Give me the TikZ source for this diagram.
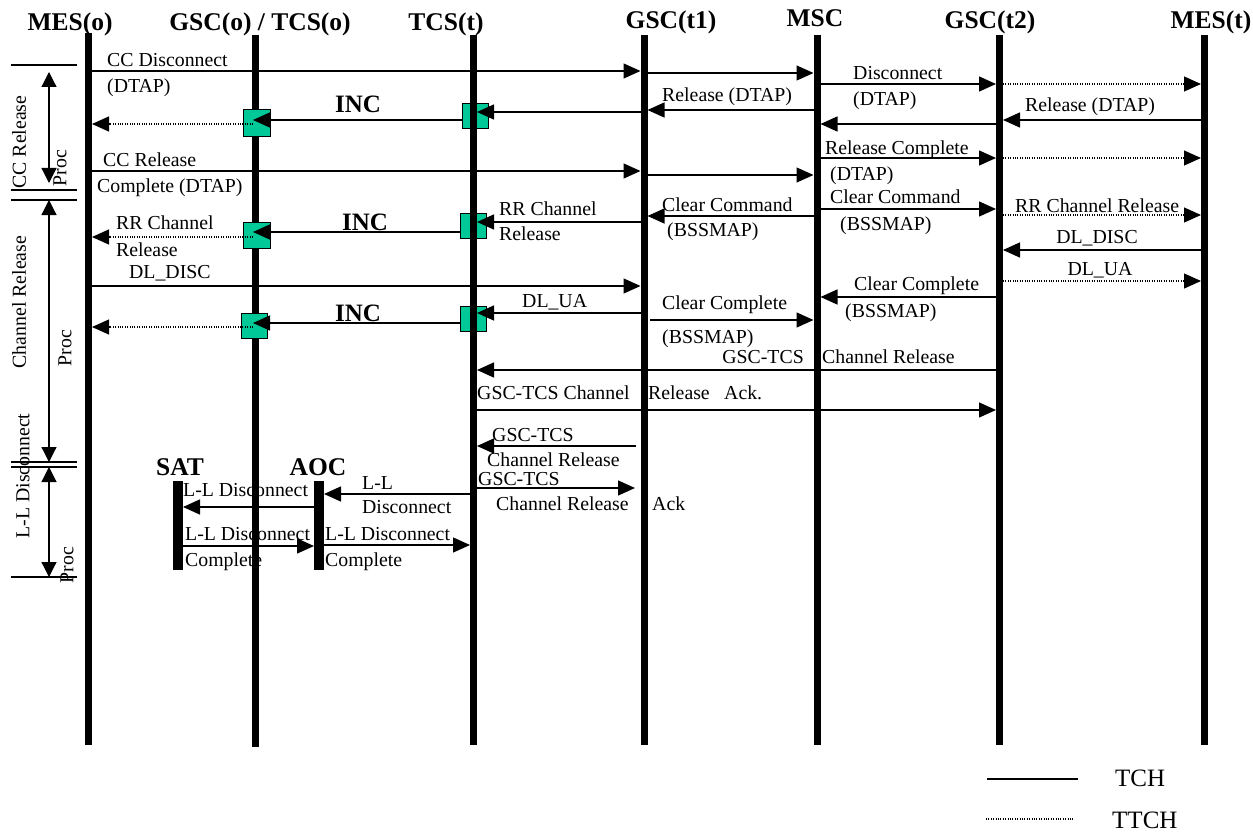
\documentclass[tikz,border=0pt]{standalone}
\usepackage{fontspec}
\setmainfont{Liberation Serif}
\usetikzlibrary{arrows.meta}
\definecolor{incgreen}{RGB}{0,200,150}
\tikzset{
  lifeline/.style={line width=7pt},
  actline/.style={line width=9.5pt},
  msg/.style={line width=1.4pt,-{Triangle[length=17pt,width=15pt]}},
  tmsg/.style={line width=1.1pt,dash pattern=on 1pt off 1.4pt,-{Triangle[length=17pt,width=15pt]}},
  tline/.style={line width=1.1pt,dash pattern=on 1pt off 1.4pt},
  lbl/.style={font=\fontsize{19.8}{22}\selectfont,inner sep=0pt,text height=15pt,text depth=3pt,anchor=west},
  clbl/.style={font=\fontsize{19.8}{22}\selectfont,inner sep=0pt,text height=15pt,text depth=3pt,anchor=center},
  hdr/.style={font=\fontsize{25.5}{28}\selectfont\bfseries,inner sep=0pt,anchor=base},
  inc/.style={font=\fontsize{25}{28}\selectfont\bfseries,inner sep=0pt,text height=17pt,text depth=0pt,anchor=center},
  incbox/.style={draw=black,line width=0.8pt,fill=incgreen,minimum width=26pt,minimum height=25pt,inner sep=0pt},
  side/.style={font=\fontsize{19.8}{22}\selectfont,inner sep=0pt,rotate=90},
  brk/.style={line width=1.2pt,{Triangle[length=15pt,width=15pt]}-{Triangle[length=15pt,width=15pt]}},
  tick/.style={line width=1.2pt},
  leg/.style={font=\fontsize{25}{28}\selectfont,inner sep=0pt,text height=17pt,text depth=0pt,anchor=west}
}
\begin{document}
\begin{tikzpicture}[x=1pt,y=-1pt]
\useasboundingbox (0,0) rectangle (1253,832);

% headers
\node[hdr] (hMESo) at (70,31) {MES(o)};
\node[hdr] (hGSCo) at (260,31) {GSC(o) / TCS(o)};
\node[hdr] (hTCSt) at (446,31) {TCS(t)};
\node[hdr] (hGSCt1) at (671,29) {GSC(t1)};
\node[hdr] (hMSC) at (815,27) {MSC};
\node[hdr] (hGSCt2) at (990,29) {GSC(t2)};
\node[hdr] (hMESt) at (1211,29) {MES(t)};

% INC boxes at TCS(t) (behind lifeline)
\node[incbox] (bt1) at (475,115.5) {};
\node[incbox] (bt2) at (473,226) {};
\node[incbox] (bt3) at (473,319) {};

% lifelines
\foreach \n/\x/\t/\b in {MESo/88.5/33/745, GSCo/255/35/747, TCSt/473.5/35/745, GSCtA/644/35/745, MSC/817/35/745, GSCtB/999.5/35/745, MESt/1204.5/35/745}{
  \coordinate (\n-top) at (\x,\t);
  \coordinate (\n-bot) at (\x,\b);
  \draw[lifeline] (\n-top) -- (\n-bot);
}
\coordinate (SAT-top) at (178,481); \coordinate (SAT-bot) at (178,570);
\coordinate (AOC-top) at (319,481); \coordinate (AOC-bot) at (319,570);
\draw[actline] (SAT-top) -- (SAT-bot);
\draw[actline] (AOC-top) -- (AOC-bot);
\node[hdr] (hSAT) at (180,475) {SAT};
\node[hdr] (hAOC) at (318,475) {AOC};

% INC boxes at GSC(o)/TCS(o)
\node[incbox,minimum width=27pt,minimum height=27pt] (bo1) at (256.5,122.5) {};
\node[incbox,minimum width=27pt,minimum height=26pt] (bo2) at (256.5,235) {};
\node[incbox,minimum width=26pt,minimum height=25pt] (bo3) at (254.5,325.5) {};

% ---- CC release ----
\draw[msg] (92,71) -- (640.5,71);
\node[lbl] (t1) at (107,61) {CC Disconnect};
\node[lbl] (t2) at (107,87) {(DTAP)};
\draw[msg] (647.5,73) -- (813.5,73);
\draw[msg] (820.5,84) -- (996,84);
\node[lbl] (t3) at (853,74) {Disconnect};
\node[lbl] (t4) at (853,100) {(DTAP)};
\draw[tmsg] (1003,84) -- (1201,84);
\draw[msg] (1201,120) -- (1003,120);
\node[lbl] (t5) at (1025,106) {Release (DTAP)};
\draw[msg] (996,124) -- (820.5,124);
\draw[msg] (813.5,110) -- (647.5,110);
\node[lbl] (t6) at (662,96) {Release (DTAP)};
\draw[msg] (640.5,112) -- (477,112);
\draw[msg] (bt1.west |- 0,120) -- (253,120);
\node[inc] (i1) at (358,104) {INC};
\draw[tmsg] (253,124) -- (92,124);

\draw[msg] (92,171) -- (640.5,171);
\node[lbl] (t7) at (103,160) {CC Release};
\node[lbl] (t8) at (97,187) {Complete (DTAP)};
\draw[msg] (647.5,175) -- (813.5,175);
\draw[msg] (820.5,158) -- (996,158);
\node[lbl] (t9) at (825,148) {Release Complete};
\node[lbl] (t10) at (830,174) {(DTAP)};
\draw[tmsg] (1003,158) -- (1201,158);

% ---- channel release ----
\draw[msg] (820.5,209) -- (996,209);
\node[lbl] (t11) at (830,198) {Clear Command};
\node[lbl] (t12) at (840,224) {(BSSMAP)};
\draw[tmsg] (1003,215) -- (1201,215);
\node[lbl] (t13) at (1015,206) {RR Channel Release};
\draw[msg] (813.5,216) -- (647.5,216);
\node[lbl] (t14) at (662,205) {Clear Command};
\node[lbl] (t15) at (667,230) {(BSSMAP)};
\draw[msg] (640.5,222) -- (477,222);
\node[lbl] (t16) at (499,209) {RR Channel};
\node[lbl] (t17) at (499,234) {Release};
\draw[msg] (bt2.west |- 0,232) -- (253,232);
\node[inc] (i2) at (365,222) {INC};
\draw[tmsg] (253,237) -- (92,237);
\node[lbl] (t18) at (116,223) {RR Channel};
\node[lbl] (t19) at (116,250) {Release};

\draw[msg] (92,286) -- (640.5,286);
\node[lbl] (t20) at (129,272) {DL\_DISC};
\draw[msg] (1201,250) -- (1003,250);
\node[clbl] (t21) at (1097,237) {DL\_DISC};
\draw[tmsg] (1003,281) -- (1201,281);
\node[clbl] (t22) at (1100,269) {DL\_UA};
\draw[msg] (996,297) -- (820.5,297);
\node[lbl] (t23) at (854,284) {Clear Complete};
\node[lbl] (t24) at (845,311) {(BSSMAP)};
\draw[msg] (650,320) -- (813.5,320);
\node[lbl] (t25) at (662,303) {Clear Complete};
\node[lbl] (t26) at (662,337) {(BSSMAP)};
\draw[msg] (640.5,313) -- (477,313);
\node[lbl] (t27) at (522,301) {DL\_UA};
\draw[msg] (bt3.west |- 0,323) -- (253,323);
\node[inc] (i3) at (358,313) {INC};
\draw[tmsg] (253,327) -- (92,327);

\draw[msg] (996,370) -- (477,370);
\node[lbl,anchor=east] (t28) at (804,357) {GSC-TCS};
\node[lbl] (t29) at (822,357) {Channel Release};
\draw[msg] (470,410) -- (996,410);
\node[lbl] (t30) at (477,393) {GSC-TCS Channel};
\node[lbl] (t31) at (648,393) {Release};
\node[lbl] (t32) at (724,393) {Ack.};

% ---- L-L disconnect ----
\draw[msg] (636,446) -- (477,446);
\node[lbl] (t33) at (492,435) {GSC-TCS};
\node[lbl] (t34) at (487,460) {Channel Release};
\draw[msg] (470,488) -- (635,488);
\node[lbl] (t35) at (478,479) {GSC-TCS};
\node[lbl] (t36) at (496,504) {Channel Release};
\node[lbl] (t37) at (652,504) {Ack};
\draw[msg] (470,494) -- (324,494);
\node[lbl] (t38) at (362,483) {L-L};
\node[lbl] (t39) at (362,507) {Disconnect};
\draw[msg] (314,507) -- (183,507);
\node[lbl] (t40) at (183,490) {L-L Disconnect};
\draw[msg] (183,546) -- (314,546);
\node[lbl] (t41) at (185,534) {L-L Disconnect};
\node[lbl] (t42) at (185,560) {Complete};
\draw[msg] (324,545) -- (470,545);
\node[lbl] (t43) at (325,534) {L-L Disconnect};
\node[lbl] (t44) at (325,560) {Complete};

% ---- left brackets ----
\foreach \y/\a in {65/11,190/11,200/11,462/11,467/11,577/11}{
  \draw[tick] (\a,\y) -- (77,\y);
}
\coordinate (bA1) at (49,72);  \coordinate (bA2) at (49,183);
\coordinate (bB1) at (49,200); \coordinate (bB2) at (49,462);
\coordinate (bC1) at (49,467); \coordinate (bC2) at (49,577);
\draw[brk] (bA1) -- (bA2);
\draw[brk] (bB1) -- (bB2);
\draw[brk] (bC1) -- (bC2);
\node[side] (s1) at (19,142) {CC Release};
\node[side] (s2) at (60,168) {Proc};
\node[side] (s3) at (19,302) {Channel Release};
\node[side] (s4) at (65,348) {Proc};
\node[side] (s5) at (23,476) {L-L Disconnect};
\node[side] (s6) at (67,565) {Proc};

% ---- legend ----
\coordinate (g1a) at (987,779); \coordinate (g1b) at (1078,779);
\coordinate (g2a) at (986,819); \coordinate (g2b) at (1074,819);
\draw[line width=1.5pt] (g1a) -- (g1b);
\draw[tline] (g2a) -- (g2b);
\node[leg] (lg1) at (1115,778) {TCH};
\node[leg] (lg2) at (1112,820) {TTCH};
\end{tikzpicture}
\end{document}
